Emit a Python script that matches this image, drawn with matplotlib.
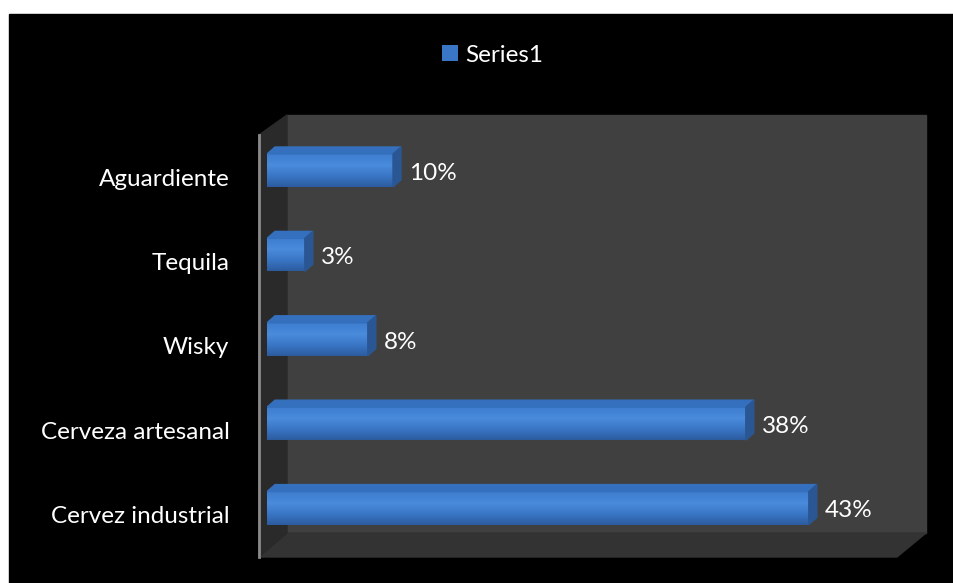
import numpy as np
import matplotlib.pyplot as plt
from matplotlib.patches import Polygon, Rectangle
from matplotlib.colors import LinearSegmentedColormap

# datos del grafico
categorias = ['Cervez industrial', 'Cerveza artesanal', 'Wisky', 'Tequila', 'Aguardiente']
valores = [43, 38, 8, 3, 10]
etiquetas = ['43%', '38%', '8%', '3%', '10%']
serie = 'Series1'

W, H = 954, 583
plt.rcParams['font.family'] = ['Lato', 'DejaVu Sans']

fig = plt.figure(figsize=(W / 100, H / 100), dpi=100, facecolor='white')

def px(x, y):
    # pixeles (origen arriba-izquierda) -> fraccion de figura
    return (x / W, 1 - y / H)

# fondo negro
fig.patches.append(Rectangle(px(9, H + 2), 1, 1,
                             transform=fig.transFigure, color='black', zorder=-10))
fig.patches[-1].set_height((H - 12) / H)

# paredes 3D (decoracion)
pared_fondo = Polygon([px(287, 115), px(926, 115), px(926, 533), px(287, 533)],
                      closed=True, transform=fig.transFigure, color='#404040', zorder=-5)
piso = Polygon([px(259, 557), px(897, 557), px(926, 533), px(287, 533)],
               closed=True, transform=fig.transFigure, color='#333333', zorder=-5)
pared_izq = Polygon([px(259, 135), px(287, 115), px(287, 533), px(259, 557)],
                    closed=True, transform=fig.transFigure, color='#2a2a2a', zorder=-5)
for p in (pared_fondo, piso, pared_izq):
    fig.patches.append(p)
fig.lines.append(plt.Line2D([259 / W, 259 / W], [1 - 135 / H, 1 - 557 / H],
                            transform=fig.transFigure, color='#8a8a8a', lw=2, zorder=-4))

ax = fig.add_axes([267 / W, 1 - 557 / H, 630 / W, 422 / H])
ax.set_facecolor('none')

y = np.arange(len(categorias))
alto = 0.39
desp = 0.08          # barras un poco por encima del centro de categoria
prof_x = 50 / 630 * 8
prof_y = 5 / 422 * 7

grad = LinearSegmentedColormap.from_list('azul', ['#2c5c9e', '#3a76c6', '#4a8bdc', '#3e7dcf'])
barras = ax.barh(y + desp, valores, height=alto, color='#3a76c6', edgecolor='none',
                 label=serie, zorder=3)

for b, v, yc, et in zip(barras, valores, y + desp, etiquetas):
    y0, y1 = yc - alto / 2, yc + alto / 2
    img = ax.imshow(np.linspace(0, 1, 64).reshape(-1, 1), cmap=grad, aspect='auto',
                    extent=(0, v, y0, y1), origin='lower', zorder=3.5)
    img.set_clip_path(b)
    tapa = Polygon([(0, y1), (v, y1), (v + prof_x, y1 + prof_y), (prof_x, y1 + prof_y)],
                   closed=True, color='#3470bd', zorder=4)
    lado = Polygon([(v, y0), (v + prof_x, y0 + prof_y), (v + prof_x, y1 + prof_y), (v, y1)],
                   closed=True, color='#2a5794', zorder=4)
    ax.add_patch(tapa)
    ax.add_patch(lado)
    ax.annotate(et, (v + prof_x, yc), xytext=(6, -2), textcoords='offset points',
                va='center', ha='left', color='white', fontsize=17.5)

ax.set_xlim(0, 50)
ax.set_ylim(-0.5, 4.5)
ax.set_yticks(y)
ax.set_yticklabels(categorias, color='white', fontsize=17.5)
ax.tick_params(axis='y', length=0, pad=27)
ax.set_xticks([])
for s in ax.spines.values():
    s.set_visible(False)

fig.legend(handles=[barras], labels=[serie], loc='center', bbox_to_anchor=px(W / 2 + 16, 55),
           frameon=False, labelcolor='white', fontsize=17.5, handlelength=0.65,
           handleheight=0.65, handletextpad=0.3)

fig.savefig('out.png', dpi=100, facecolor='white')
